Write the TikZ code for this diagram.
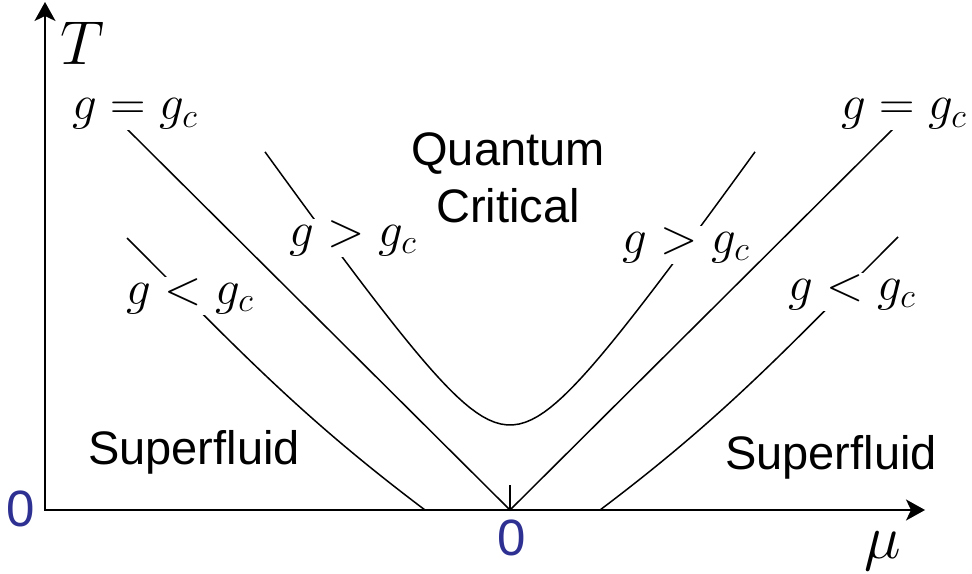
\documentclass[tikz,border=0pt]{standalone}
\usepackage{fix-cm}
\usepackage{fontspec}
\setsansfont{Liberation Sans}
\usetikzlibrary{arrows.meta}
\definecolor{zeroblue}{RGB}{46,49,146}

\begin{document}
\begin{tikzpicture}[
    x=0.5pt, y=0.5pt,
    axis/.style={line width=1pt, {Stealth[length=9.5pt, width=10.5pt, inset=2.5pt]}-{Stealth[length=9.5pt, width=10.5pt, inset=2.5pt]}},
    curve/.style={line width=0.75pt},
    lbl/.style={font=\fontsize{24.5}{29}\selectfont, fill=white, inner sep=0.5pt},
    region/.style={font=\sffamily\fontsize{23.5}{28.5}\selectfont, align=center},
    zero/.style={font=\sffamily\fontsize{25.5}{30}\selectfont, text=zeroblue},
    axlbl/.style={font=\fontsize{31}{36}\selectfont}
]
\useasboundingbox (-45,-63) rectangle (927,510);

% axes
\coordinate (O) at (0,0);
\coordinate (Ttip) at (0,508);
\coordinate (mutip) at (880,0);
\coordinate (C) at (465,0);
\coordinate (Ctick) at (465,25);
\draw[axis] (Ttip) -- (O) -- (mutip);
\draw[curve] (C) -- (Ctick);

% g = g_c
\coordinate (critL) at (80,383);
\coordinate (critR) at (850,383);
\draw[curve] (critL) -- (C) -- (critR);

% g < g_c
\coordinate (lessL0) at (380,0);
\coordinate (lessL1) at (82,272);
\coordinate (lessR0) at (555,0);
\coordinate (lessR1) at (853,273);
\draw[curve] (lessL0) to[out=143, in=-45] (lessL1);
\draw[curve] (lessR0) to[out=37, in=-135] (lessR1);

% g > g_c
\draw[curve] plot[domain=-245:245, samples=80] ({465+\x},{85*sqrt(1+(\x/59.86)^2)});

% labels
\node[lbl] (eqL) at (90,396) {$g = g_c$};
\node[lbl] (eqR) at (859,396) {$g = g_c$};
\node[lbl] (ltL) at (145,214) {$g < g_c$};
\node[lbl] (ltR) at (807,218) {$g < g_c$};
\node[lbl] (gtL) at (308,272) {$g > g_c$};
\node[lbl] (gtR) at (641,265) {$g > g_c$};

\node[region] (qc) at (463,332) {Quantum\\Critical};
\node[region] (sfL) at (149,58) {Superfluid};
\node[region] (sfR) at (786,53) {Superfluid};

\node[axlbl] (Tlbl) at (38,467) {$T$};
\node[axlbl] (mulbl) at (838,-41) {$\mu$};
\node[zero] (zeroL) at (-24,1) {0};
\node[zero] (zeroC) at (467,-28) {0};
\end{tikzpicture}
\end{document}
